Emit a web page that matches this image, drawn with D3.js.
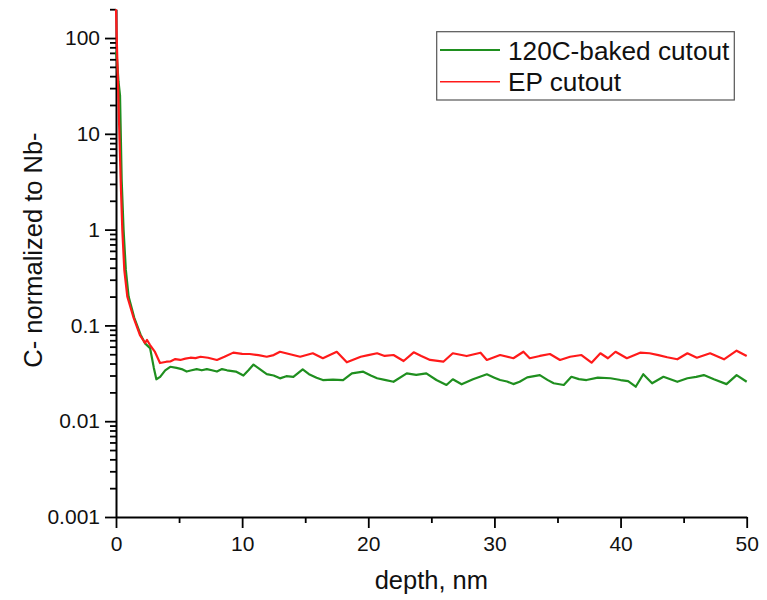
<!DOCTYPE html>
<html>
<head>
<meta charset="utf-8">
<script src="https://cdn.jsdelivr.net/npm/d3@7"></script>
<style>
  html, body { margin: 0; padding: 0; background: #fff; }
  svg { display: block; font-family: "Liberation Sans", Arial, sans-serif; }
</style>
</head>
<body>
<svg id="chart" width="767" height="600"></svg>
<script>
// ---- data ----
const seriesNames = ["120C-baked cutout", "EP cutout"];
const seriesColors = ["#1f8f1f", "#ff1a1a"];

const greenDepth = [0, 0.08, 0.2, 0.32, 0.45, 0.6, 0.78, 1.0, 1.45, 1.95, 2.3, 2.7, 3.0, 3.2, 3.5, 3.9, 4.3, 4.8, 5.2, 5.6, 6.0, 6.4, 6.8, 7.2, 7.6, 8.0, 8.4, 8.8, 9.5, 10.1, 10.5, 10.9, 11.4, 11.95, 12.5, 13.0, 13.5, 14.06, 14.8, 15.3, 15.9, 16.4, 17.2, 18.0, 18.7, 19.6, 20.2, 20.7, 21.3, 22.0, 23.05, 23.8, 24.6, 25.4, 26.2, 26.7, 27.4, 28.3, 29.4, 30.0, 30.45, 31.0, 31.5, 32.0, 32.6, 33.6, 34.2, 34.7, 35.5, 36.1, 36.7, 37.3, 38.2, 39.2, 40.0, 40.6, 41.2, 41.8, 42.5, 43.4, 44.5, 45.3, 46.0, 46.6, 47.4, 48.4, 49.2, 50];
const greenValue = [72, 60, 35, 25, 3.3, 1.0, 0.38, 0.2, 0.12, 0.08, 0.065, 0.058, 0.036, 0.0274, 0.029, 0.034, 0.037, 0.036, 0.035, 0.033, 0.034, 0.035, 0.034, 0.035, 0.034, 0.033, 0.035, 0.034, 0.033, 0.030, 0.034, 0.039, 0.035, 0.031, 0.030, 0.028, 0.0295, 0.029, 0.0348, 0.031, 0.0284, 0.0269, 0.0272, 0.0269, 0.0316, 0.0329, 0.030, 0.0281, 0.027, 0.0258, 0.0316, 0.0305, 0.0316, 0.0269, 0.0239, 0.0274, 0.0243, 0.0274, 0.0309, 0.0285, 0.0269, 0.026, 0.0244, 0.0258, 0.0287, 0.0303, 0.027, 0.0249, 0.0239, 0.0291, 0.0275, 0.0269, 0.0285, 0.0281, 0.0269, 0.0262, 0.0229, 0.0309, 0.0249, 0.0291, 0.0258, 0.0281, 0.029, 0.0303, 0.0274, 0.0244, 0.0303, 0.0258];

const redDepth = [0, 0.1, 0.37, 0.5, 0.66, 0.9, 1.37, 1.9, 2.3, 2.46, 2.7, 3.09, 3.49, 4.0, 4.3, 4.7, 5.1, 5.5, 5.9, 6.3, 6.7, 7.3, 8.0, 8.6, 9.3, 10.0, 10.6, 11.3, 11.95, 12.5, 13.0, 13.8, 14.6, 15.6, 16.4, 17.5, 18.3, 19.4, 20.0, 20.7, 21.3, 22.0, 22.8, 23.6, 24.2, 24.9, 25.95, 26.7, 27.8, 28.9, 29.4, 30.45, 31.5, 32.3, 32.8, 33.6, 34.4, 35.2, 36.0, 36.9, 37.7, 38.4, 39.0, 39.6, 40.5, 41.55, 42.3, 43.0, 43.7, 44.5, 45.3, 46.05, 47.1, 48.2, 49.2, 50];
const redValue = [200, 63, 3.3, 0.99, 0.378, 0.199, 0.123, 0.079, 0.0655, 0.0705, 0.0624, 0.0528, 0.0405, 0.0418, 0.042, 0.0445, 0.0436, 0.045, 0.046, 0.0455, 0.0471, 0.046, 0.0436, 0.047, 0.052, 0.0505, 0.0503, 0.049, 0.0471, 0.049, 0.0531, 0.050, 0.0471, 0.0512, 0.0454, 0.0531, 0.0412, 0.0471, 0.049, 0.0512, 0.048, 0.0491, 0.0425, 0.0524, 0.048, 0.0436, 0.0418, 0.0512, 0.0479, 0.0519, 0.0436, 0.0491, 0.0454, 0.0531, 0.0454, 0.048, 0.0503, 0.0436, 0.0471, 0.0491, 0.0408, 0.0512, 0.0454, 0.0531, 0.0454, 0.0519, 0.0512, 0.049, 0.0465, 0.0443, 0.0512, 0.046, 0.0512, 0.0443, 0.0545, 0.0479];

const xMajorTicks = [0, 10, 20, 30, 40, 50];
const xMinorTicks = [5, 15, 25, 35, 45];
const yMajorTicks = [0.001, 0.01, 0.1, 1, 10, 100];
const yTickLabels = ["0.001", "0.01", "0.1", "1", "10", "100"];

const xTitle = "depth, nm";
const yTitle = "C- normalized to Nb-";

// ---- layout ----
const svg = d3.select("#chart");
const plotLeft = 116, plotRight = 746.7, plotTop = 9.2, plotBottom = 517;

const x = d3.scaleLinear().domain([0, 50]).range([plotLeft, plotRight]);
const y = d3.scaleLog().domain([0.001, 200]).range([plotBottom, plotTop]);

const yMinorTicks = [];
for (let e = -3; e <= 2; e++) {
  for (let m = 2; m <= 9; m++) {
    const v = m * Math.pow(10, e);
    if (v <= 200) yMinorTicks.push(v);
  }
}

function styleAxis(g) {
  g.selectAll(".domain").attr("stroke", "#000").attr("stroke-width", 2);
  g.selectAll(".tick line").attr("stroke", "#000").attr("stroke-width", 1.8);
}

const gxMinor = svg.append("g").attr("transform", `translate(0,${plotBottom})`)
  .call(d3.axisBottom(x).tickValues(xMinorTicks).tickSize(6).tickSizeOuter(0).tickFormat(""));
styleAxis(gxMinor);
gxMinor.select(".domain").remove();

const gx = svg.append("g").attr("transform", `translate(0,${plotBottom})`)
  .call(d3.axisBottom(x).tickValues(xMajorTicks).tickSize(11).tickSizeOuter(0).tickPadding(8).tickFormat(d3.format("d")));
styleAxis(gx);
gx.selectAll(".tick text").attr("font-size", 21).attr("fill", "#111")
  .attr("font-family", "'Liberation Sans', Arial, sans-serif");

const gyMinor = svg.append("g").attr("transform", `translate(${plotLeft},0)`)
  .call(d3.axisLeft(y).tickValues(yMinorTicks).tickSize(6).tickSizeOuter(0).tickFormat(""));
styleAxis(gyMinor);
gyMinor.select(".domain").remove();

const gy = svg.append("g").attr("transform", `translate(${plotLeft},0)`)
  .call(d3.axisLeft(y).tickValues(yMajorTicks).tickSize(11).tickSizeOuter(0).tickPadding(5)
    .tickFormat((d, i) => yTickLabels[i]));
styleAxis(gy);
gy.selectAll(".tick text").attr("font-size", 21).attr("fill", "#111")
  .attr("font-family", "'Liberation Sans', Arial, sans-serif");

svg.append("text")
  .attr("x", (plotLeft + plotRight) / 2).attr("y", 589)
  .attr("text-anchor", "middle").attr("font-size", 25.5).attr("fill", "#111")
  .text(xTitle);

svg.append("text")
  .attr("transform", "translate(42,250) rotate(-90)")
  .attr("text-anchor", "middle").attr("font-size", 25.5).attr("fill", "#111")
  .text(yTitle);

svg.append("clipPath").attr("id", "plotclip")
  .append("rect").attr("x", plotLeft - 2).attr("y", plotTop - 2)
  .attr("width", plotRight - plotLeft + 4).attr("height", plotBottom - plotTop + 2);

const line = d3.line().x(d => x(d[0])).y(d => y(d[1]));

const seriesData = [
  d3.zip(greenDepth, greenValue),
  d3.zip(redDepth, redValue)
];

const plot = svg.append("g").attr("clip-path", "url(#plotclip)");
seriesData.forEach((data, i) => {
  plot.append("path")
    .datum(data)
    .attr("fill", "none")
    .attr("stroke", seriesColors[i])
    .attr("stroke-width", 2.2)
    .attr("stroke-linejoin", "round")
    .attr("d", line);
});

const lg = svg.append("g");
lg.append("rect")
  .attr("x", 436.7).attr("y", 31.7).attr("width", 297.6).attr("height", 68.3)
  .attr("fill", "#fff").attr("stroke", "#555").attr("stroke-width", 1.2);
const legendRows = [50, 81.7];
seriesNames.forEach((name, i) => {
  lg.append("line")
    .attr("x1", 440).attr("x2", 500)
    .attr("y1", legendRows[i]).attr("y2", legendRows[i])
    .attr("stroke", seriesColors[i]).attr("stroke-width", i === 0 ? 2.2 : 1.6);
  lg.append("text")
    .attr("x", 508).attr("y", legendRows[i] + 9.5)
    .attr("font-size", 26.2).attr("fill", "#111")
    .text(name);
});
</script>
</body>
</html>
